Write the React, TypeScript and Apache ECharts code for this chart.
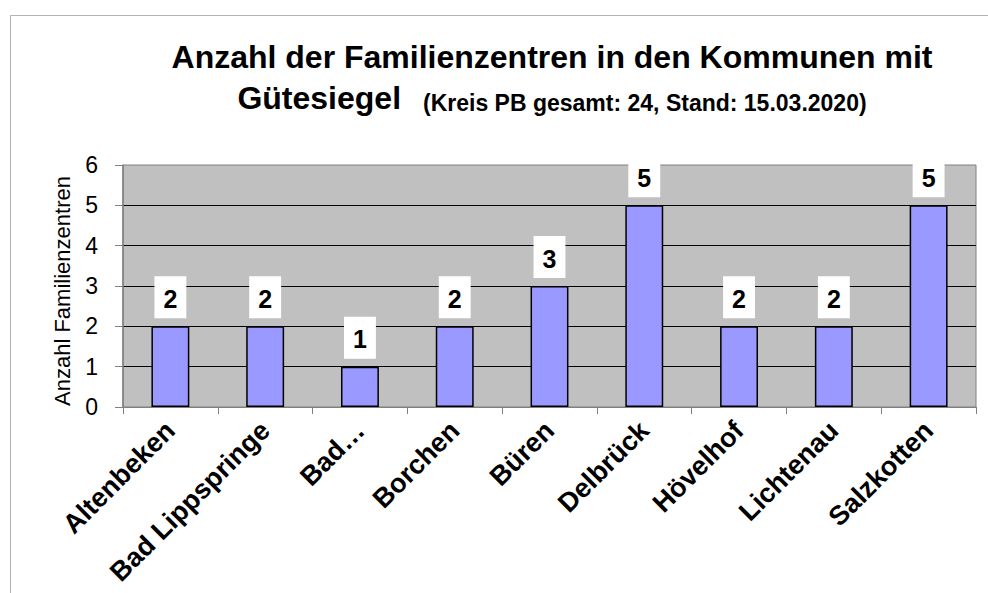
import React, { useEffect, useRef } from "react";
import * as echarts from "echarts";

const categories = [
  "Altenbeken",
  "Bad Lippspringe",
  "Bad…",
  "Borchen",
  "Büren",
  "Delbrück",
  "Hövelhof",
  "Lichtenau",
  "Salzkotten",
];
const values = [2, 2, 1, 2, 3, 5, 2, 2, 5];
const titleLine1 = "Anzahl der Familienzentren in den Kommunen mit";
const titleLine2Main = "Gütesiegel";
const titleLine2Sub = "(Kreis PB gesamt: 24, Stand: 15.03.2020)";
const yAxisName = "Anzahl Familienzentren";

const FONT = "'Liberation Sans', Arial, sans-serif";

export default function App() {
  const ref = useRef<HTMLDivElement>(null);
  useEffect(() => {
    document.body.style.margin = "0";
    if (!ref.current) return;
    const chart = echarts.init(ref.current, null, { renderer: "svg" });
    chart.setOption({
      animation: false,
      backgroundColor: "#ffffff",
      textStyle: { fontFamily: FONT },
      title: {
        text: titleLine1 + "\n{a|" + titleLine2Main + "}{b|" + titleLine2Sub + "}",
        left: 547,
        top: 33,
        textAlign: "center",
        textStyle: {
          fontFamily: FONT,
          fontSize: 32,
          fontWeight: "bold",
          color: "#000",
          lineHeight: 38,
          rich: {
            a: {
              fontFamily: FONT,
              fontSize: 32,
              fontWeight: "bold",
              color: "#000",
              lineHeight: 38,
              verticalAlign: "bottom",
            },
            b: {
              fontFamily: FONT,
              fontSize: 23,
              fontWeight: "bold",
              color: "#000",
              lineHeight: 38,
              verticalAlign: "bottom",
              padding: [0, 0, 0, 22],
            },
          },
        },
      },
      graphic: [
        {
          type: "rect",
          silent: true,
          shape: { x: 10.5, y: 15.5, width: 1200, height: 1000 },
          style: { fill: "none", stroke: "#b3b3b3", lineWidth: 1 },
          z: -10,
        },
      ],
      grid: {
        left: 123,
        right: 12,
        top: 165,
        bottom: 186,
        outerBoundsMode: "none",
        show: true,
        backgroundColor: "#c0c0c0",
        borderColor: "#808080",
        borderWidth: 1,
      },
      xAxis: {
        type: "category",
        data: categories,
        boundaryGap: true,
        axisLine: { show: true, lineStyle: { color: "#808080", width: 1 } },
        axisTick: {
          show: true,
          inside: false,
          length: 7,
          alignWithLabel: false,
          lineStyle: { color: "#808080" },
        },
        axisLabel: {
          interval: 0,
          rotate: 45,
          margin: 19,
          padding: [10, 0, 0, 0],
          fontFamily: FONT,
          fontSize: 27,
          fontWeight: "bold",
          color: "#000",
          hideOverlap: false,
        },
        splitLine: { show: false },
      },
      yAxis: {
        type: "value",
        min: 0,
        max: 6,
        interval: 1,
        name: yAxisName,
        nameLocation: "middle",
        nameRotate: 90,
        nameGap: 50,
        nameTextStyle: {
          fontFamily: FONT,
          fontSize: 22,
          color: "#000",
          padding: [0, 10, 0, 0],
        },
        axisLine: { show: true, lineStyle: { color: "#808080", width: 1.5 } },
        axisTick: {
          show: true,
          inside: false,
          length: 8,
          lineStyle: { color: "#808080" },
        },
        axisLabel: {
          margin: 25,
          fontFamily: FONT,
          fontSize: 23,
          color: "#000",
        },
        splitLine: {
          show: true,
          showMinLine: false,
          showMaxLine: false,
          lineStyle: { color: "#000", width: 1 },
        },
      },
      series: [
        {
          type: "bar",
          data: values,
          barWidth: "40%",
          itemStyle: { color: "#9999ff", borderColor: "#000", borderWidth: 1.5 },
          label: {
            show: true,
            position: "top",
            distance: 8,
            fontFamily: FONT,
            fontSize: 25,
            fontWeight: "bold",
            color: "#000",
            lineHeight: 25,
            backgroundColor: "#ffffff",
            padding: [10, 9, 7, 9],
          },
        },
      ],
    });
    return () => chart.dispose();
  }, []);
  return <div ref={ref} style={{ width: 988, height: 593 }} />;
}
